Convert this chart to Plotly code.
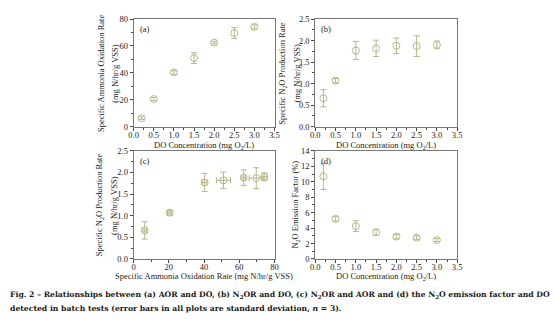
import plotly.graph_objects as go

# ---- data ----
do_conc = [0.2, 0.5, 1.0, 1.5, 2.0, 2.5, 3.0]
aor = [6.3, 20.5, 40.3, 51.0, 62.5, 69.6, 74.2]
aor_sd = [1.0, 1.2, 1.3, 4.0, 1.0, 4.0, 1.5]
n2or = [0.66, 1.07, 1.77, 1.82, 1.88, 1.87, 1.90]
n2or_sd = [0.20, 0.05, 0.21, 0.19, 0.18, 0.24, 0.09]
ef = [10.7, 5.2, 4.25, 3.45, 2.9, 2.75, 2.45]
ef_sd = [1.7, 0.3, 0.7, 0.4, 0.3, 0.25, 0.2]

panel_labels = ["(a)", "(b)", "(c)", "(d)"]

W, H = 554, 326
COL = "#b9b788"
FONT = "Liberation Serif"
FS = 8.5


def xd(a, b):
    return [a / W, b / W]


def yd(top, bottom):
    return [1 - bottom / H, 1 - top / H]


def axis(domain, rng, dtick, mdtick, anchor, fmt, standoff=0):
    return dict(domain=domain, range=rng, dtick=dtick, tick0=0, tickformat=fmt,
                ticks="outside", ticklen=3, tickwidth=1, tickcolor="#444",
                showline=True, linecolor="#777", linewidth=1, mirror=True,
                showgrid=False, zeroline=False, anchor=anchor,
                ticklabelstandoff=standoff,
                minor=dict(ticks="outside", ticklen=2, dtick=mdtick, tick0=0,
                           tickcolor="#444", showgrid=False),
                tickfont=dict(family=FONT, size=FS, color="#222"))


def scatter(x, y, ey, xa, ya, ex=None):
    t = go.Scatter(x=x, y=y, mode="markers", xaxis=xa, yaxis=ya,
                   marker=dict(symbol="circle-open", size=7, color=COL,
                               line=dict(width=1, color=COL)),
                   error_y=dict(type="data", array=ey, color=COL, thickness=1, width=3),
                   showlegend=False)
    if ex is not None:
        t.error_x = dict(type="data", array=ex, color=COL, thickness=1, width=3)
    return t


fig = go.Figure()
fig.add_trace(scatter(do_conc, aor, aor_sd, "x", "y"))
fig.add_trace(scatter(do_conc, n2or, n2or_sd, "x2", "y2"))
fig.add_trace(scatter(aor, n2or, n2or_sd, "x3", "y3", ex=aor_sd))
fig.add_trace(scatter(do_conc, ef, ef_sd, "x4", "y4"))

top_y = yd(14.5, 125.5)
bot_y = yd(150.5, 262)
left_x = xd(131, 274.5)
right_x = xd(316, 460.5)

fig.update_layout(
    width=W, height=H, margin=dict(l=0, r=0, t=0, b=0),
    paper_bgcolor="white", plot_bgcolor="white",
    xaxis=axis(left_x, [0, 3.5], 0.5, 0.25, "y", ".1f", -3),
    yaxis=axis(top_y, [0, 80], 20, 10, "x", "d"),
    xaxis2=axis(right_x, [0, 3.5], 0.5, 0.25, "y2", ".1f", -3),
    yaxis2=axis(top_y, [0, 2.5], 0.5, 0.25, "x2", ".1f"),
    xaxis3=axis(left_x, [0, 80], 20, 10, "y3", "d", -3),
    yaxis3=axis(bot_y, [0, 2.5], 0.5, 0.25, "x3", ".1f"),
    xaxis4=axis(right_x, [0, 3.5], 0.5, 0.25, "y4", ".1f", -3),
    yaxis4=axis(bot_y, [0, 14], 2, 1, "x4", "d"),
)

ann = []
tfont = dict(family=FONT, size=FS, color="#222")
# panel labels
for lab, xs, ys in zip(panel_labels, [left_x, right_x, left_x, right_x], [top_y, top_y, bot_y, bot_y]):
    ann.append(dict(text=lab, x=xs[0] + 4 / W, y=ys[1] - 3 / H, xref="paper", yref="paper",
                    xanchor="left", yanchor="top", showarrow=False, font=tfont))


def ytitle(text, xpx, ys):
    ann.append(dict(text=text, x=xpx / W, y=(ys[0] + ys[1]) / 2, xref="paper", yref="paper",
                    xanchor="center", yanchor="middle", textangle=-90, showarrow=False,
                    font=tfont))


def xtitle(text, xs, ypx):
    ann.append(dict(text=text, x=(xs[0] + xs[1]) / 2, y=1 - ypx / H, xref="paper", yref="paper",
                    xanchor="center", yanchor="middle", showarrow=False, font=tfont))


ytitle("Specific Ammonia Oxidation Rate", 98, top_y)
ytitle("(mg N/hr/g VSS)", 112, top_y)
ytitle("Specific N<sub>2</sub>O Production Rate", 283, top_y)
ytitle("(mg N/hr/g VSS)", 297, top_y)
ytitle("Specific N<sub>2</sub>O Production Rate", 97, bot_y)
ytitle("(mg N/hr/g VSS)", 111, bot_y)
ytitle("N<sub>2</sub>O Emission Factor (%)", 296, bot_y)

do_txt = "DO Concentration (mg O<sub>2</sub>/L)"
xtitle(do_txt, left_x, 145)
xtitle(do_txt, right_x, 145)
xtitle("Specific Ammonia Oxidation Rate (mg N/hr/g VSS)", left_x, 280)
xtitle(do_txt, right_x, 280)

cap_font = dict(family="DejaVu Serif", size=7.7, color="#1a1a1a")
cap1 = ("<b>Fig. 2 – Relationships between (a) AOR and DO, (b) N<sub>2</sub>OR and DO, "
        "(c) N<sub>2</sub>OR and AOR and (d) the N<sub>2</sub>O emission factor and DO</b>")
cap2 = "<b>detected in batch tests (error bars in all plots are standard deviation, <i>n</i> = 3).</b>"
ann.append(dict(text=cap1, x=3 / W, y=1 - 299 / H, xref="paper", yref="paper",
                xanchor="left", yanchor="middle", showarrow=False, font=cap_font))
ann.append(dict(text=cap2, x=3 / W, y=1 - 313 / H, xref="paper", yref="paper",
                xanchor="left", yanchor="middle", showarrow=False, font=cap_font))

fig.update_layout(annotations=ann)
fig.write_html("out.html")
